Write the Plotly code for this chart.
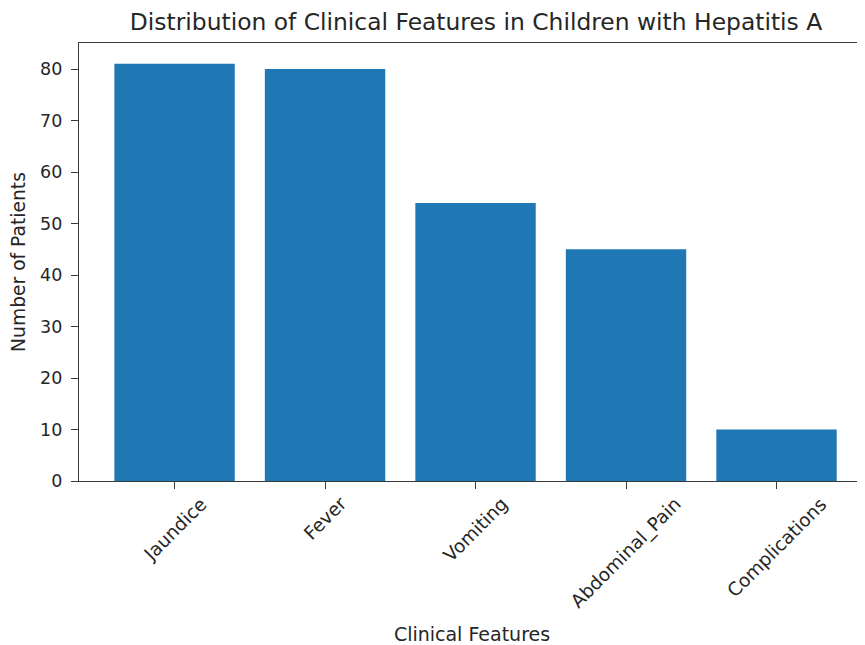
import plotly.graph_objects as go

categories = ["Jaundice", "Fever", "Vomiting", "Abdominal_Pain", "Complications"]
patients = [81, 80, 54, 45, 10]
y_ticks = [0, 10, 20, 30, 40, 50, 60, 70, 80]

FONT = "DejaVu Sans"
TXT = "#262626"
LINE = "#3a3a3a"
x_idx = list(range(len(categories)))

# page has an 8px body margin; size the figure so it ends at the window edge
W, H = 857, 637
OFF = 8

fig = go.Figure(go.Bar(
    x=x_idx, y=patients, width=0.8,
    marker=dict(color="#1f77b4", line=dict(width=0)),
))

for i, c in zip(x_idx, categories):
    fig.add_annotation(
        x=i, xref="x", y=-0.022, yref="paper",
        text=c, textangle=-45, showarrow=False,
        xanchor="center", yanchor="top",
        font=dict(family=FONT, size=18.5, color=TXT),
    )

fig.update_layout(
    width=W, height=H,
    margin=dict(l=79 - OFF, r=0, t=43 - OFF, b=H - (481 - OFF)),
    paper_bgcolor="white", plot_bgcolor="white",
    showlegend=False,
    font=dict(family=FONT, size=17.5, color=TXT),
    title=dict(
        text="Distribution of Clinical Features in Children with Hepatitis A",
        x=(476 - OFF) / W, xanchor="center", y=1 - (22 - OFF) / H, yanchor="middle",
        font=dict(family=FONT, size=23.4, color=TXT),
    ),
    xaxis=dict(
        range=[-0.635, 4.588],
        tickvals=x_idx, ticktext=[""] * len(x_idx),
        ticks="outside", ticklen=7, tickwidth=1.2, tickcolor=LINE,
        showline=True, linecolor=LINE, linewidth=1.3, mirror=True,
        showgrid=False, zeroline=False,
        title=dict(text="Clinical Features", standoff=141,
                   font=dict(family=FONT, size=19, color=TXT)),
        automargin=False,
    ),
    yaxis=dict(
        range=[0, 85.05],
        tickvals=y_ticks,
        ticks="outside", ticklen=7, tickwidth=1.2, tickcolor=LINE,
        ticklabelstandoff=5,
        showline=True, linecolor=LINE, linewidth=1.3,
        showgrid=False, zeroline=False,
        tickfont=dict(family=FONT, size=17.5, color=TXT),
        title=dict(text="Number of Patients", standoff=11,
                   font=dict(family=FONT, size=18.7, color=TXT)),
        automargin=False,
    ),
)

fig.write_html("out.html")
